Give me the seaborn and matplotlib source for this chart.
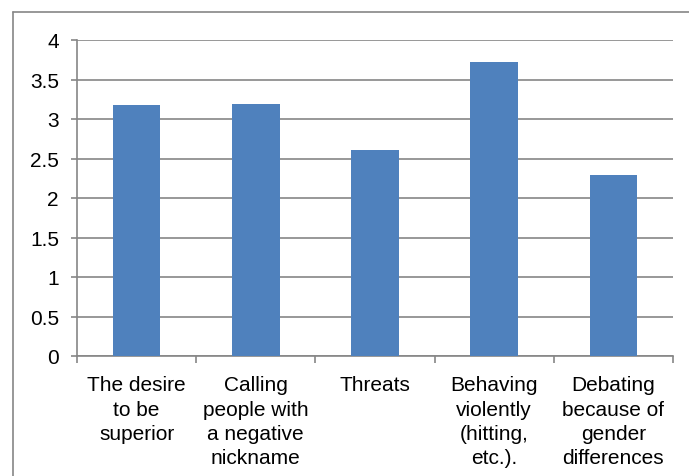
import matplotlib
matplotlib.use("Agg")
import matplotlib.pyplot as plt
from matplotlib.lines import Line2D
from matplotlib.ticker import FixedLocator
import seaborn as sns
import pandas as pd

categories = [
    "The desire\nto be\nsuperior",
    "Calling\npeople with\na negative\nnickname",
    "Threats",
    "Behaving\nviolently\n(hitting,\netc.).",
    "Debating\nbecause of\ngender\ndifferences",
]
values = [3.18, 3.19, 2.61, 3.72, 2.29]
y_ticks = [0, 0.5, 1, 1.5, 2, 2.5, 3, 3.5, 4]
y_tick_labels = ["0", "0.5", "1", "1.5", "2", "2.5", "3", "3.5", "4"]

df = pd.DataFrame({"category": categories, "value": values})

sns.set_theme(style="white")
plt.rcParams["font.family"] = ["Liberation Sans", "DejaVu Sans"]

grey = "#868686"
bar_color = "#4F81BD"

fig = plt.figure(figsize=(6.89, 4.77), dpi=100)
ax = fig.add_axes([77 / 689, 1 - 357 / 477, (673 - 77) / 689, (357 - 41) / 477])

sns.barplot(data=df, x="category", y="value", color=bar_color, width=0.4,
            saturation=1, ax=ax, zorder=3, linewidth=0)

ax.set_xlim(-0.5, len(categories) - 0.5)
ax.set_ylim(0, 4)
ax.set_yticks(y_ticks)
ax.set_yticklabels(y_tick_labels)
ax.yaxis.grid(True, color=grey, linewidth=1.2)
ax.set_axisbelow(True)
ax.set_xlabel("")
ax.set_ylabel("")

for side in ("top", "right"):
    ax.spines[side].set_visible(False)
for side in ("left", "bottom"):
    ax.spines[side].set_color(grey)
    ax.spines[side].set_linewidth(1.2)

ax.tick_params(axis="y", which="major", left=True, length=4, width=1.2, color=grey,
               labelsize=15, pad=9, labelcolor="black")
ax.tick_params(axis="x", which="major", bottom=False, labelsize=15, pad=8,
               labelcolor="black")
ax.xaxis.set_minor_locator(FixedLocator([i - 0.5 for i in range(len(categories) + 1)]))
ax.tick_params(axis="x", which="minor", bottom=True, length=5, width=1.2, color=grey)
for lbl in ax.get_xticklabels():
    lbl.set_linespacing(1.35)
    lbl.set_ha("center")

# chart-area border (left and top edges)
bx, by = 12.5 / 689, 1 - 12.5 / 477
fig.add_artist(Line2D([bx, bx], [by, 0], transform=fig.transFigure, color=grey, linewidth=1.2))
fig.add_artist(Line2D([bx, 1], [by, by], transform=fig.transFigure, color=grey, linewidth=1.2))

fig.savefig("out.png", dpi=100)
